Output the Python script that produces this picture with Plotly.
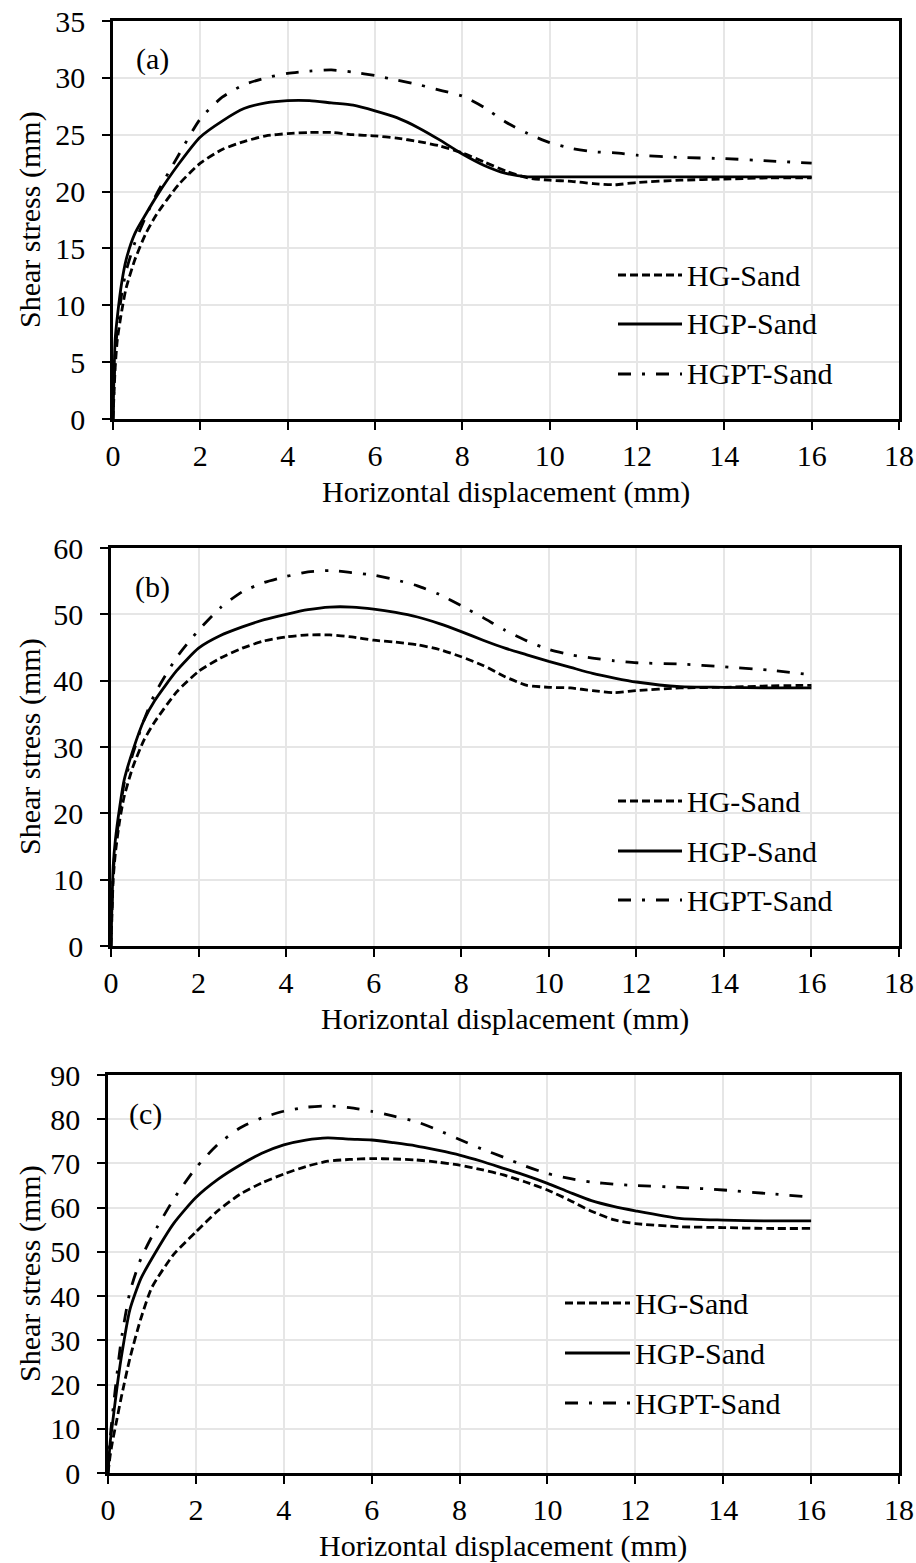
import plotly.graph_objects as go

# ---------------- data ----------------
x_common = [0, 0.05, 0.1, 0.2, 0.3, 0.5, 0.75, 1, 1.5, 2, 2.5, 3, 3.5, 4, 4.5, 5, 5.5,
            6, 6.5, 7, 7.5, 8, 8.5, 9, 9.5, 10, 10.5, 11, 11.5, 12, 13, 14, 15, 16]

# (a)
a_hg = [0, 4.5, 7.0, 9.5, 11.5, 14.0, 16.3, 18.0, 20.6, 22.5, 23.7, 24.4, 24.9, 25.1, 25.2, 25.2, 25.0,
        24.9, 24.7, 24.4, 24.0, 23.4, 22.6, 21.8, 21.2, 21.0, 20.9, 20.7, 20.6, 20.8, 21.0, 21.1, 21.2, 21.2]
a_hgp = [0, 7.0, 9.0, 12.0, 14.0, 16.3, 18.0, 19.6, 22.4, 24.8, 26.2, 27.3, 27.8, 28.0, 28.0, 27.8, 27.6,
         27.1, 26.5, 25.6, 24.5, 23.3, 22.3, 21.6, 21.3, 21.3, 21.3, 21.3, 21.3, 21.3, 21.3, 21.3, 21.3, 21.3]
a_hgpt = [0, 5.5, 8.0, 11.0, 13.0, 15.5, 17.8, 19.8, 23.2, 26.4, 28.3, 29.4, 30.0, 30.4, 30.6, 30.7, 30.5,
          30.2, 29.8, 29.4, 28.9, 28.4, 27.4, 26.1, 25.1, 24.3, 23.8, 23.5, 23.4, 23.2, 23.0, 22.9, 22.7, 22.5]

# (b)
b_hg = [0, 10.0, 14.0, 19.0, 22.5, 27.0, 31.0, 33.8, 38.3, 41.4, 43.4, 44.9, 46.0, 46.6, 46.9, 46.9, 46.6,
        46.1, 45.8, 45.4, 44.7, 43.6, 42.3, 40.6, 39.3, 39.0, 38.9, 38.5, 38.2, 38.5, 38.9, 39.0, 39.2, 39.3]
b_hgp = [0, 12.0, 16.0, 21.0, 25.0, 29.5, 34.0, 37.0, 41.5, 44.9, 46.8, 48.1, 49.2, 50.0, 50.7, 51.1, 51.1,
         50.8, 50.3, 49.6, 48.6, 47.4, 46.1, 44.9, 43.9, 42.9, 42.0, 41.1, 40.4, 39.8, 39.1, 39.0, 38.9, 38.9]
b_hgpt = [0, 11.0, 15.0, 20.0, 24.5, 29.0, 34.0, 38.0, 43.5, 47.6, 51.0, 53.4, 54.8, 55.7, 56.4, 56.6, 56.3,
          55.9, 55.2, 54.3, 53.0, 51.3, 49.5, 47.6, 46.0, 44.7, 43.9, 43.4, 43.0, 42.7, 42.5, 42.1, 41.6, 40.9]

# (c)
c_hg = [0, 4.0, 7.0, 12.0, 17.0, 26.0, 35.0, 42.0, 49.5, 54.5, 59.3, 63.0, 65.6, 67.6, 69.3, 70.5, 70.9,
        71.1, 71.0, 70.8, 70.3, 69.6, 68.6, 67.4, 65.8, 64.0, 61.7, 59.2, 57.3, 56.4, 55.7, 55.5, 55.3, 55.3]
c_hgp = [0, 7.0, 11.0, 19.0, 26.0, 37.0, 44.0, 48.5, 56.5, 62.3, 66.4, 69.6, 72.3, 74.2, 75.3, 75.8, 75.5,
         75.3, 74.7, 74.0, 73.0, 71.9, 70.5, 68.9, 67.3, 65.5, 63.5, 61.6, 60.3, 59.3, 57.6, 57.2, 57.0, 57.0]
c_hgpt = [0, 8.0, 13.0, 22.0, 30.0, 41.0, 48.5, 53.5, 62.0, 69.0, 74.3, 78.0, 80.3, 81.8, 82.7, 83.0, 82.6,
          81.8, 80.7, 79.5, 77.6, 75.4, 73.3, 71.4, 69.4, 67.7, 66.6, 65.8, 65.3, 65.0, 64.6, 64.0, 63.2, 62.4]

series_names = ["HG-Sand", "HGP-Sand", "HGPT-Sand"]
panel_labels = ["(a)", "(b)", "(c)"]
y_max = [35, 60, 90]
y_step = [5, 10, 10]
x_ticks = [0, 2, 4, 6, 8, 10, 12, 14, 16, 18]

panels = [
    (a_hg, a_hgp, a_hgpt),
    (b_hg, b_hgp, b_hgpt),
    (c_hg, c_hgp, c_hgpt),
]

# ---------------- styling ----------------
W, H = 916, 1563
FONT = "Liberation Serif, Times New Roman, serif"
FS = 30
dash_styles = ["8px,4px", "solid", "13px,11px,3px,11px"]
line_w = 2.8

# plot-area boxes in pixels: (left, right, top, bottom)
boxes = [(113, 899, 21, 419), (111, 899, 548, 946), (108, 899, 1075, 1473)]
legend_pos = [  # (sample x0, sample x1, row y list)
    (618, 682, [275, 324, 374]),
    (618, 682, [801, 851, 900]),
    (565, 630, [1303, 1353, 1403]),
]
label_pos = [(152, 59), (152, 587), (145, 1114)]


def px(xp):
    return xp / W


def py(yp):
    return 1 - yp / H


fig = go.Figure()
layout = dict(
    width=W, height=H, margin=dict(l=0, r=0, t=0, b=0, autoexpand=False),
    paper_bgcolor="white", plot_bgcolor="white",
    showlegend=False, font=dict(family=FONT, size=FS, color="black"),
)
annotations = []
shapes = []

for i, series in enumerate(panels):
    sfx = "" if i == 0 else str(i + 1)
    left, right, top, bottom = boxes[i]
    for name, ys, dash in zip(series_names, series, dash_styles):
        fig.add_trace(go.Scatter(
            x=x_common, y=ys, name=name, mode="lines",
            line=dict(color="black", width=line_w, dash=dash, shape="spline", smoothing=0.6),
            xaxis="x" + sfx, yaxis="y" + sfx,
        ))
    axis_common = dict(
        showline=True, linecolor="black", linewidth=2.6, mirror=True,
        ticks="outside", ticklen=8, tickwidth=2, tickcolor="black",
        showgrid=True, gridcolor="#e6e6e6", gridwidth=1.5,
        zeroline=False, automargin=False,
        tickfont=dict(family=FONT, size=FS, color="black"),
    )
    layout["xaxis" + sfx] = dict(
        axis_common, domain=[px(left), px(right)], anchor="y" + sfx,
        range=[0, 18], tickvals=x_ticks, ticklabelstandoff=0,
    )
    layout["yaxis" + sfx] = dict(
        axis_common, domain=[py(bottom), py(top)], anchor="x" + sfx,
        range=[0, y_max[i]], dtick=y_step[i], tick0=0, ticklabelstandoff=11,
    )
    # axis titles
    annotations.append(dict(
        text="Horizontal displacement (mm)", xref="paper", yref="paper",
        x=px((left + right) / 2 + 0), y=py(bottom + 73), showarrow=False,
        font=dict(family=FONT, size=FS), xanchor="center", yanchor="middle",
    ))
    annotations.append(dict(
        text="Shear stress (mm)", xref="paper", yref="paper", textangle=-90,
        x=px(30), y=py((top + bottom) / 2), showarrow=False,
        font=dict(family=FONT, size=FS), xanchor="center", yanchor="middle",
    ))
    # panel label
    annotations.append(dict(
        text=panel_labels[i], xref="paper", yref="paper",
        x=px(label_pos[i][0]), y=py(label_pos[i][1]), showarrow=False,
        font=dict(family=FONT, size=FS), xanchor="center", yanchor="middle",
    ))
    # legend drawn inside the panel
    sx0, sx1, rows = legend_pos[i]
    for name, dash, ry in zip(series_names, dash_styles, rows):
        shapes.append(dict(
            type="line", xref="paper", yref="paper",
            x0=px(sx0), x1=px(sx1), y0=py(ry), y1=py(ry),
            line=dict(color="black", width=3, dash=dash),
        ))
        annotations.append(dict(
            text=name, xref="paper", yref="paper",
            x=px(sx1 + 3), y=py(ry), showarrow=False,
            font=dict(family=FONT, size=FS), xanchor="left", yanchor="middle",
        ))

layout["annotations"] = annotations
layout["shapes"] = shapes
fig.update_layout(**layout)
fig.write_html("out.html")
